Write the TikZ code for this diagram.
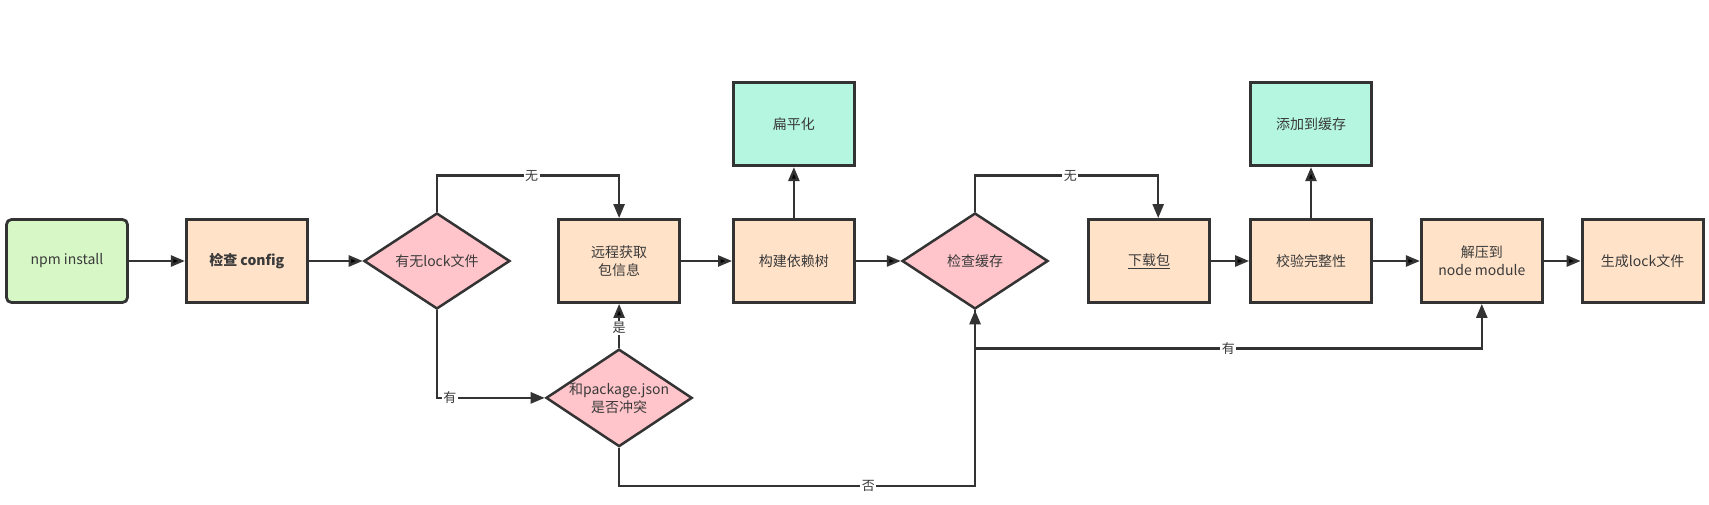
\documentclass[tikz,border=0pt]{standalone}
\usepackage{fontspec}
\setmainfont{Noto Sans CJK SC}
\usepackage{tikz}
\usetikzlibrary{shapes.geometric,positioning,arrows.meta}

\definecolor{startgreen}{HTML}{D7F8C6}
\definecolor{peach}{HTML}{FFE2C8}
\definecolor{mint}{HTML}{B4F6E0}
\definecolor{rose}{HTML}{FFC5CB}
\definecolor{edgegray}{HTML}{333333}
\definecolor{textgray}{HTML}{3A3A3A}

\begin{document}
\begin{tikzpicture}[x=1pt,y=-1pt,
    every node/.style={font=\fontsize{14}{18}\selectfont,text=textgray,align=center},
    procbox/.style={draw=edgegray,line width=2.8pt,fill=peach,minimum width=121pt,minimum height=83pt},
    startbox/.style={procbox,fill=startgreen,rounded corners=5pt},
    sidebox/.style={procbox,fill=mint},
    choice/.style={diamond,draw=edgegray,line width=2.5pt,fill=rose,aspect=1.5,inner sep=0pt,minimum width=146pt,minimum height=96pt},
    flow/.style={draw=edgegray,line width=2.5pt,-{Triangle[length=14pt,width=11pt]}},
    lbl/.style={fill=white,inner sep=1.5pt,font=\fontsize{13}{13}\selectfont}]
  \useasboundingbox (0,0) rectangle (1709,505);

  \node[startbox]                          (NpmInstall)  at (67,261) {npm install};
  \node[procbox, right=56pt of NpmInstall] (CheckConfig) {\textbf{检查 config}};
  \node[choice,  right=54pt of CheckConfig](HasLock)     {有无lock文件};
  \node[procbox, right=46pt of HasLock]    (FetchInfo)   {远程获取\\包信息};
  \node[choice,  below=44pt of FetchInfo]  (Conflict)    {和package.json\\是否冲突};
  \node[procbox, right=51pt of FetchInfo]  (BuildTree)   {构建依赖树};
  \node[sidebox, above=51pt of BuildTree]  (Flatten)     {扁平化};
  \node[choice,  right=45pt of BuildTree]  (CheckCache)  {检查缓存};
  \node[procbox, right=38pt of CheckCache] (Download)    {\underline{下载包}};
  \node[procbox, right=38pt of Download]   (Verify)      {校验完整性};
  \node[sidebox, above=51pt of Verify]     (AddCache)    {添加到缓存};
  \node[procbox, right=47pt of Verify]     (Unzip)       {解压到\\node module};
  \node[procbox, right=37pt of Unzip]      (WriteLock)   {生成lock文件};

  \path[flow] (NpmInstall)  edge (CheckConfig)
              (CheckConfig) edge (HasLock)
              (FetchInfo)   edge (BuildTree)
              (BuildTree)   edge (CheckCache)
              (BuildTree)   edge (Flatten)
              (Download)    edge (Verify)
              (Verify)      edge (AddCache)
              (Verify)      edge (Unzip)
              (Unzip)       edge (WriteLock)
              (Conflict)    edge node[lbl,pos=0.45] {是} (FetchInfo);

  \draw[flow] (HasLock.north) -- ++(0,-36) -| node[lbl,pos=0.26] {无} (FetchInfo.north);
  \draw[flow] (HasLock.south) |- node[lbl,pos=0.56] {有} (Conflict.west);
  \draw[flow] (CheckCache.north) -- ++(0,-36) -| node[lbl,pos=0.26] {无} ([xshift=9pt]Download.north);
  \draw[flow] (Conflict.south) -- ++(0,38) -| node[lbl,pos=0.35] {否} (CheckCache.south);
  \draw[flow] (CheckCache.south) -- ++(0,38) -| node[lbl,pos=0.25] {有} (Unzip.south);

\end{tikzpicture}
\end{document}
